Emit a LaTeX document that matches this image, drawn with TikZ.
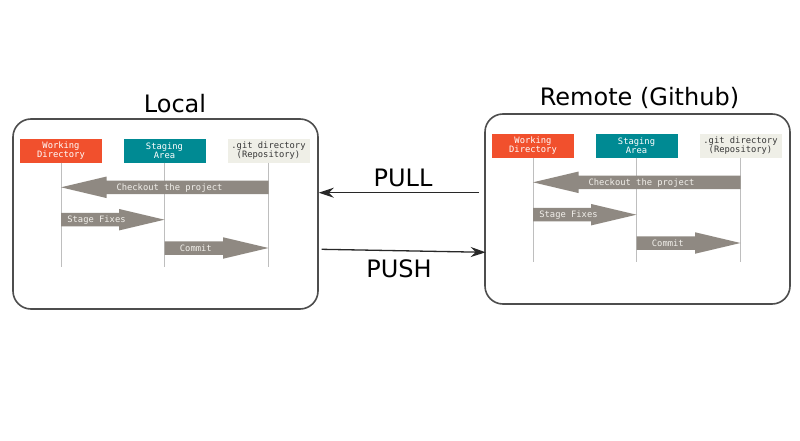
\documentclass[tikz,border=0pt]{standalone}
\usepackage{fontspec}
\setmainfont{DejaVu Sans}
\newfontfamily\monofont{DejaVu Sans Mono}
\usetikzlibrary{arrows.meta,calc}
\definecolor{wdcol}{RGB}{241,80,45}
\definecolor{stcol}{RGB}{0,138,147}
\definecolor{gitcol}{RGB}{239,239,231}
\definecolor{gittext}{RGB}{55,55,55}
\definecolor{fatcol}{RGB}{143,137,130}
\definecolor{labcol}{RGB}{242,240,235}
\definecolor{lifecol}{RGB}{190,190,190}
\definecolor{boxline}{RGB}{77,77,77}
\definecolor{conncol}{RGB}{40,40,40}
\tikzset{
  outerbox/.style={draw=boxline, line width=1.6pt, rounded corners=18pt, minimum width=305pt, minimum height=190pt, inner sep=0pt},
  headbox/.style={minimum width=82pt, minimum height=23.5pt, inner sep=0pt, align=center, font=\monofont\fontsize{8.8}{9}\selectfont},
  wdbox/.style={headbox, fill=wdcol, text=white},
  stbox/.style={headbox, fill=stcol, text=white},
  gitbox/.style={headbox, fill=gitcol, text=gittext},
  life/.style={draw=lifecol, line width=0.8pt},
  fat/.style={fill=fatcol},
  fatlabel/.style={text=labcol, inner sep=0pt, anchor=base, font=\monofont\fontsize{8.8}{9}\selectfont},
  conn/.style={draw=conncol, line width=1.3pt, -{Stealth[length=15pt,width=10pt,inset=5pt]}},
  titlelab/.style={font=\fontsize{24}{28}\selectfont, anchor=base, inner sep=0pt},
}
% tail x, tip x, head base x, y
\newcommand\fatarr[4]{%
  \fill[fat] (#1,{#4-6.75}) -- (#3,{#4-6.75}) -- (#3,{#4-10.75}) -- (#2,#4)
    -- (#3,{#4+10.75}) -- (#3,{#4+6.75}) -- (#1,{#4+6.75}) -- cycle;}
% prefix, x, y
\newcommand\gitdiag[3]{%
  \begin{scope}[shift={(#2,#3)}]
    \node[outerbox] (#1box) at (152.5,95) {};
    \node[wdbox] (#1wd) at (48,31.75) {Working\\Directory};
    \node[stbox] (#1st) at (151.5,31.75) {Staging\\Area};
    \node[gitbox] (#1git) at (255.5,31.75) {.git directory\\(Repository)};
    \coordinate (#1wdend) at (48,147.7);
    \coordinate (#1stend) at (151.5,147.7);
    \coordinate (#1gitend) at (255.5,147.7);
    \draw[life] (#1wd.south) -- (#1wdend);
    \draw[life] (#1st.south) -- (#1stend);
    \draw[life] (#1git.south) -- (#1gitend);
    \fatarr{255.5}{48}{93.5}{68.3}
    \fatarr{48}{151.5}{106}{100.7}
    \fatarr{151.5}{255.5}{210}{129}
    \node[fatlabel] (#1cklab) at (156.5,71.5) {Checkout the project};
    \node[fatlabel] (#1sflab) at (83.5,103.9) {Stage Fixes};
    \node[fatlabel] (#1cmlab) at (182.8,132.2) {Commit};
  \end{scope}}
\begin{document}
\begin{tikzpicture}[x=1pt,y=-1pt]
  \fill[white] (0,0) rectangle (800,441);
  \useasboundingbox (0,0) rectangle (800,441);
  \gitdiag{L}{13}{119}
  \gitdiag{R}{485}{114}
  \node[titlelab] (localtitle) at (175,113) {Local};
  \node[titlelab] (remotetitle) at (639.5,106) {Remote (Github)};
  \coordinate (pullstart) at (479,192.7);
  \coordinate (pushstart) at (321.7,249.3);
  \draw[conn] (pullstart) -- (Lbox.east |- pullstart);
  \draw[conn] (pushstart) -- ($(Rbox.west)+(1.5,43.3)$);
  \node[titlelab] (pulllab) at (403,186) {PULL};
  \node[titlelab] (pushlab) at (399,277.3) {PUSH};
\end{tikzpicture}
\end{document}
